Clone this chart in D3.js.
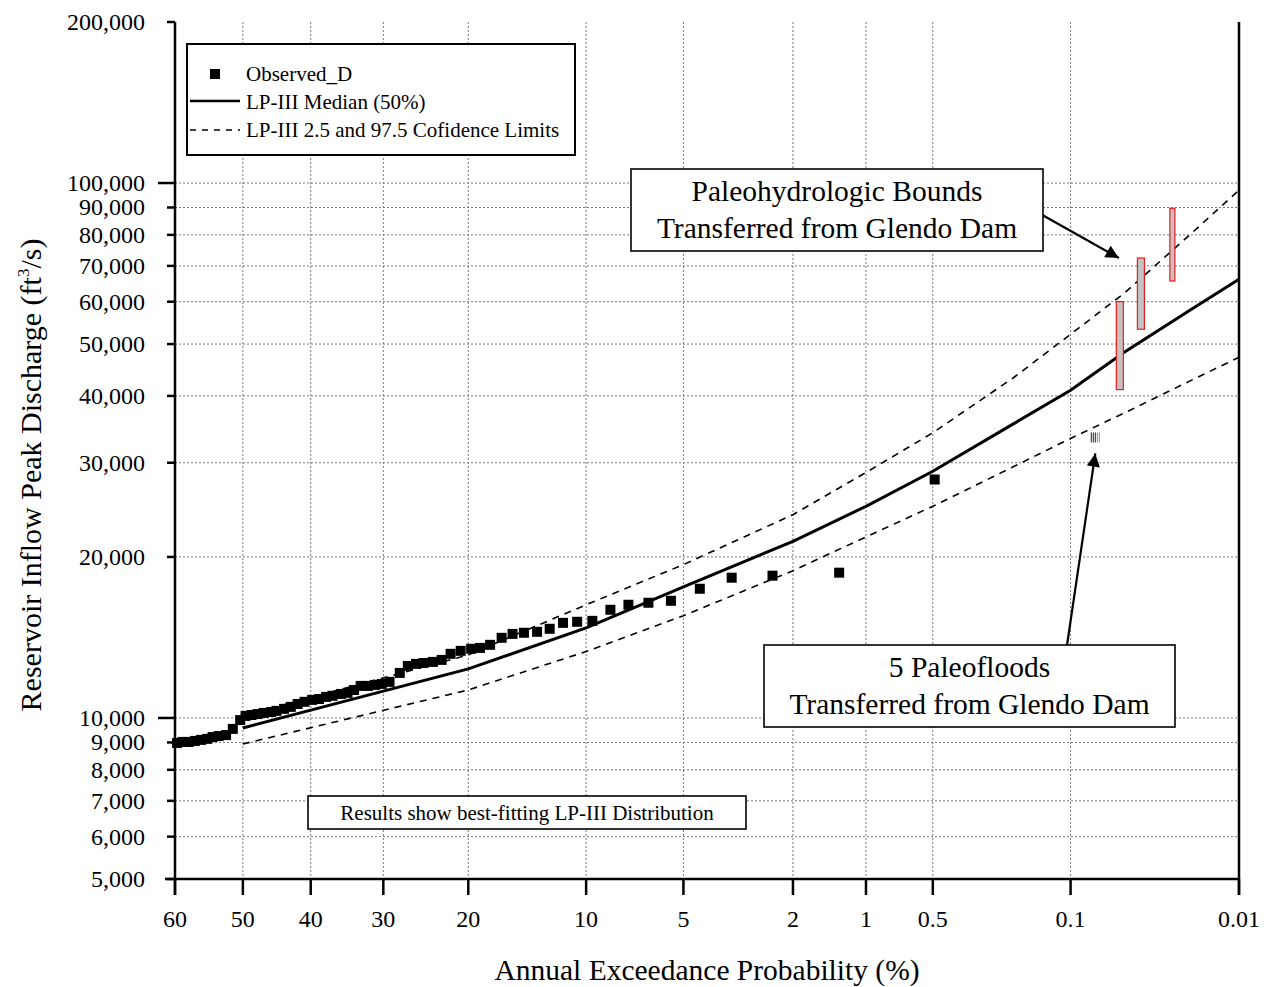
<!DOCTYPE html>
<html>
<head>
<meta charset="utf-8">
<script src="https://cdn.jsdelivr.net/npm/d3@7"></script>
<style>
  body { margin: 0; background: #fff; }
  svg { display: block; font-family: "Liberation Serif", "Times New Roman", serif; }
</style>
</head>
<body>
<div id="chart"></div>
<script>
// === LP-III frequency curve on normal probability paper ===

// observed annual peaks (exceedance %, cfs)
const obsP = [59.7, 58.9, 58.0, 57.1, 56.2, 55.3, 54.5, 53.6, 52.5, 51.5, 50.4, 49.6, 48.7, 47.8, 46.9,
  45.8, 45.0, 43.9, 42.9, 41.9, 40.9, 39.8, 38.8, 37.8, 36.9, 35.7, 34.8, 33.9, 33.0, 32.0, 31.1, 30.2,
  29.2, 27.9, 26.9, 25.9, 25.0, 23.9, 22.9, 21.9, 20.8, 19.7, 18.8, 17.8, 16.7, 15.7, 14.7, 13.6, 12.6,
  11.6, 10.6, 9.6, 8.5, 7.5, 6.5, 5.5, 4.4, 3.4, 2.4, 1.3, 0.49];
const obsQ = [8980, 9020, 9020, 9060, 9100, 9140, 9210, 9250, 9290, 9540, 9910, 10090, 10130, 10170, 10220,
  10260, 10310, 10400, 10490, 10620, 10720, 10810, 10850, 10950, 11000, 11090, 11140, 11280, 11480, 11480,
  11530, 11580, 11680, 12140, 12510, 12620, 12670, 12730, 12840, 13180, 13350, 13470, 13520, 13700, 14120,
  14360, 14430, 14490, 14680, 15060, 15130, 15190, 15930, 16280, 16420, 16560, 17440, 18290, 18450, 18690, 27910];

// fitted curve + confidence limits
const curveP  = [50, 20, 10, 5, 2, 1, 0.5, 0.2, 0.1, 0.05, 0.02, 0.01];
const medianQ = [9580, 12350, 14740, 17590, 21380, 24870, 28920, 35500, 40970, 48250, 58000, 66110];
const upperQ  = [10090, 13120, 16280, 19350, 23990, 28760, 34130, 43300, 52150, 62230, 80410, 97000];
const lowerQ  = [8940, 11280, 13310, 15530, 18850, 21800, 24870, 29510, 33310, 37160, 42760, 47230];

// paleohydrologic bounds (Glendo Dam)
const paleoP  = [0.053, 0.040, 0.026];
const paleoLo = [41100, 53300, 65600];
const paleoHi = [60000, 72400, 89700];
const paleoFloodP = 0.073, paleoFloodQ = 33450;

// ticks
const xTicks = [60, 50, 40, 30, 20, 10, 5, 2, 1, 0.5, 0.1, 0.01];
const yTicks = [5000, 6000, 7000, 8000, 9000, 10000, 20000, 30000, 40000, 50000, 60000, 70000, 80000, 90000, 100000, 200000];

// inverse normal (Acklam)
function probit(p) {
  const a = [-3.969683028665376e+01, 2.209460984245205e+02, -2.759285104469687e+02, 1.383577518672690e+02, -3.066479806614716e+01, 2.506628277459239e+00];
  const b = [-5.447609879822406e+01, 1.615858368580409e+02, -1.556989798598866e+02, 6.680131188771972e+01, -1.328068115591883e+01];
  const c = [-7.784894002430293e-03, -3.223964580411365e-01, -2.400758277161838e+00, -2.549732539343734e+00, 4.374664141464968e+00, 2.938163982698783e+00];
  const d = [7.784695709041462e-03, 3.224671290700398e-01, 2.445134137142996e+00, 3.754408661907416e+00];
  const plow = 0.02425;
  let q, r;
  if (p < plow) {
    q = Math.sqrt(-2 * Math.log(p));
    return (((((c[0]*q+c[1])*q+c[2])*q+c[3])*q+c[4])*q+c[5]) / ((((d[0]*q+d[1])*q+d[2])*q+d[3])*q+1);
  }
  if (p <= 1 - plow) {
    q = p - 0.5; r = q * q;
    return (((((a[0]*r+a[1])*r+a[2])*r+a[3])*r+a[4])*r+a[5])*q / (((((b[0]*r+b[1])*r+b[2])*r+b[3])*r+b[4])*r+1);
  }
  q = Math.sqrt(-2 * Math.log(1 - p));
  return -(((((c[0]*q+c[1])*q+c[2])*q+c[3])*q+c[4])*q+c[5]) / ((((d[0]*q+d[1])*q+d[2])*q+d[3])*q+1);
}
const zOf = pct => -probit(pct / 100);

// sizing
const outerW = 1273, outerH = 987;
const margin = { top: 22, right: 34, bottom: 108, left: 175 };
const width  = outerW - margin.left - margin.right;
const height = outerH - margin.top - margin.bottom;

const svg = d3.select("#chart").append("svg")
  .attr("width", outerW).attr("height", outerH);
const g = svg.append("g").attr("transform", `translate(${margin.left},${margin.top})`);

const zScale = d3.scaleLinear().domain([zOf(60), zOf(0.01)]).range([0, width]);
const x = p => zScale(zOf(p));
const y = d3.scaleLog().domain([5000, 200000]).range([height, 0]);

// grid
const grid = g.append("g").attr("stroke", "#777").attr("stroke-width", 1).attr("stroke-dasharray", "2,2");
grid.selectAll("line.v").data(xTicks.slice(1, -1)).join("line")
  .attr("x1", d => x(d)).attr("x2", d => x(d)).attr("y1", 0).attr("y2", height);
grid.selectAll("line.h").data(yTicks.slice(1, -1)).join("line")
  .attr("x1", 0).attr("x2", width).attr("y1", d => y(d)).attr("y2", d => y(d));

// axes frame
const axes = g.append("g").attr("stroke", "#000").attr("stroke-width", 2.5);
axes.append("line").attr("x1", -10).attr("x2", width).attr("y1", height).attr("y2", height);
axes.append("line").attr("x1", 0).attr("x2", 0).attr("y1", 0).attr("y2", height + 16);
axes.append("line").attr("x1", width).attr("x2", width).attr("y1", 0).attr("y2", height + 16);

// x ticks
const xt = g.append("g");
xt.selectAll("line").data(xTicks).join("line")
  .attr("x1", d => x(d)).attr("x2", d => x(d)).attr("y1", height).attr("y2", height + 16)
  .attr("stroke", "#000").attr("stroke-width", 2.5);
xt.selectAll("text").data(xTicks).join("text")
  .attr("x", d => x(d)).attr("y", height + 48)
  .attr("text-anchor", "middle").attr("font-size", 24).text(d => d);

// y ticks
const majorY = new Set([10000, 100000]);
const yt = g.append("g");
yt.selectAll("line").data(yTicks).join("line")
  .attr("x1", d => majorY.has(d) ? -17 : -8).attr("x2", 0)
  .attr("y1", d => y(d)).attr("y2", d => y(d))
  .attr("stroke", "#000").attr("stroke-width", 2.5);
yt.selectAll("text").data(yTicks).join("text")
  .attr("x", -30).attr("y", d => y(d)).attr("dy", "0.33em")
  .attr("text-anchor", "end").attr("font-size", 24).text(d => d3.format(",")(d));

// axis titles
svg.append("text").attr("x", 707).attr("y", 980).attr("text-anchor", "middle")
  .attr("font-size", 29.5).text("Annual Exceedance Probability (%)");
const yTitle = svg.append("text").attr("transform", "translate(41,475) rotate(-90)")
  .attr("text-anchor", "middle").attr("font-size", 30);
yTitle.append("tspan").text("Reservoir Inflow Peak Discharge (ft");
yTitle.append("tspan").attr("font-size", 17).attr("dy", -12).text("3");
yTitle.append("tspan").attr("dy", 12).text("/s)");

// curves
const line = d3.line().x(d => x(d[0])).y(d => y(d[1]));
const zip = qs => curveP.map((p, i) => [p, qs[i]]);
g.append("path").attr("d", line(zip(upperQ))).attr("fill", "none")
  .attr("stroke", "#000").attr("stroke-width", 1.6).attr("stroke-dasharray", "7,6");
g.append("path").attr("d", line(zip(lowerQ))).attr("fill", "none")
  .attr("stroke", "#000").attr("stroke-width", 1.6).attr("stroke-dasharray", "7,6");
g.append("path").attr("d", line(zip(medianQ))).attr("fill", "none")
  .attr("stroke", "#000").attr("stroke-width", 3);

// observed
const sq = 10;
g.append("g").selectAll("rect").data(obsP.map((p, i) => [p, obsQ[i]])).join("rect")
  .attr("x", d => x(d[0]) - sq / 2).attr("y", d => y(d[1]) - sq / 2)
  .attr("width", sq).attr("height", sq).attr("fill", "#000");

// paleo bounds
const pw = [7, 7, 5];
g.append("g").selectAll("rect").data(paleoP).join("rect")
  .attr("x", (d, i) => x(d) - pw[i] / 2).attr("y", (d, i) => y(paleoHi[i]))
  .attr("width", (d, i) => pw[i]).attr("height", (d, i) => y(paleoLo[i]) - y(paleoHi[i]))
  .attr("fill", "#c4c4c4").attr("stroke", "#f01818").attr("stroke-width", 1.2);

// paleoflood marker (hatched)
const pfx = x(paleoFloodP), pfy = y(paleoFloodQ);
g.append("g").selectAll("line").data([-4, -2, 0, 2, 4]).join("line")
  .attr("x1", d => pfx + d).attr("x2", d => pfx + d).attr("y1", pfy - 5).attr("y2", pfy + 5)
  .attr("stroke", (d, i) => i > 2 ? "#888" : "#222").attr("stroke-width", 1);

// arrows
const defs = svg.append("defs");
defs.append("marker").attr("id", "ah").attr("viewBox", "0 0 10 10")
  .attr("refX", 10).attr("refY", 5).attr("markerWidth", 8).attr("markerHeight", 6)
  .attr("markerUnits", "strokeWidth").attr("orient", "auto")
  .append("path").attr("d", "M0,0 L10,5 L0,10 Z").attr("fill", "#000");
svg.append("line").attr("x1", 1037).attr("y1", 212)
  .attr("x2", margin.left + x(paleoP[1]) - 22).attr("y2", margin.top + y(paleoHi[1]))
  .attr("stroke", "#000").attr("stroke-width", 2.2).attr("marker-end", "url(#ah)");
svg.append("line").attr("x1", 1066).attr("y1", 652)
  .attr("x2", margin.left + pfx).attr("y2", margin.top + pfy + 16)
  .attr("stroke", "#000").attr("stroke-width", 2.2).attr("marker-end", "url(#ah)");

// annotation boxes
function box(x0, y0, w, h, lines, fs, lh, top) {
  svg.append("rect").attr("x", x0).attr("y", y0).attr("width", w).attr("height", h)
    .attr("fill", "#fff").attr("stroke", "#000").attr("stroke-width", 1.6);
  lines.forEach((t, i) => {
    svg.append("text").attr("x", x0 + w / 2).attr("y", y0 + top + lh * i)
      .attr("text-anchor", "middle").attr("font-size", fs).text(t);
  });
}
box(631, 169, 412, 82, ["Paleohydrologic Bounds", "Transferred from Glendo Dam"], 29.5, 37, 32);
box(764, 645, 411, 82, ["5 Paleofloods", "Transferred from Glendo Dam"], 29.5, 37, 32);
box(308, 796, 438, 33, ["Results show best-fitting LP-III Distribution"], 21, 30, 24);

// legend
const lg = svg.append("g");
lg.append("rect").attr("x", 187).attr("y", 44).attr("width", 388).attr("height", 111)
  .attr("fill", "#fff").attr("stroke", "#000").attr("stroke-width", 2);
lg.append("rect").attr("x", 210).attr("y", 69).attr("width", 10).attr("height", 10).attr("fill", "#000");
lg.append("line").attr("x1", 190).attr("x2", 240).attr("y1", 101).attr("y2", 101)
  .attr("stroke", "#000").attr("stroke-width", 2.5);
lg.append("line").attr("x1", 190).attr("x2", 240).attr("y1", 130).attr("y2", 130)
  .attr("stroke", "#000").attr("stroke-width", 1.4).attr("stroke-dasharray", "6,6");
const legendText = ["Observed_D", "LP-III Median (50%)", "LP-III 2.5 and 97.5 Cofidence Limits"];
lg.selectAll("text.l").data(legendText).join("text")
  .attr("x", 246).attr("y", (d, i) => 81 + i * 28).attr("font-size", 21).text(d => d);
</script>
</body>
</html>
